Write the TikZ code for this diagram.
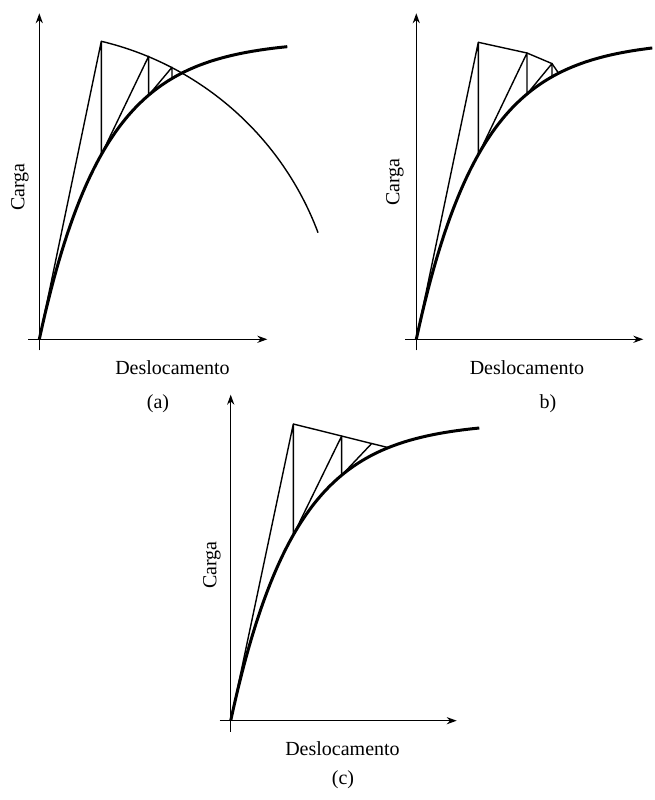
\documentclass[tikz,border=0pt]{standalone}
\usepackage{fontspec}
\setmainfont{Liberation Serif}
\usepackage{tikz}
\usetikzlibrary{arrows.meta, positioning, calc}

\begin{document}
\begin{tikzpicture}[
    x=0.5pt, y=0.5pt,
    declare function={carga(\d)=299*(1-exp(-0.0155*\d));},
    eixo/.style={line width=0.6pt, -{Stealth[length=5pt, width=3.6pt]}},
    resposta/.style={line width=1.5pt},
    iter/.style={line width=0.7pt, line join=round},
    rotulo/.style={font=\fontsize{10}{12}\selectfont, inner sep=0pt}
]
    \useasboundingbox (0,0) rectangle (655,800);

    % (a) comprimento de arco
    \begin{scope}[shift={(39.3,460.7)}]
        \coordinate (a-O) at (0,0);
        \coordinate (a-xi) at (-11,0);
        \coordinate (a-xf) at (228,0);
        \coordinate (a-yi) at (0,-11);
        \coordinate (a-yf) at (0,326);
        \draw[eixo] (a-xi) -- (a-xf);
        \draw[eixo] (a-yi) -- (a-yf);
        \draw[resposta] plot[domain=0:248, samples=80, smooth] (\x, {carga(\x)});
        \coordinate (a-P1) at (62,298);
        \coordinate (a-C1) at (62,{carga(62)});
        \coordinate (a-P2) at (109.3,283);
        \coordinate (a-C2) at (109.3,{carga(109.3)});
        \coordinate (a-P3) at (132.7,272);
        \coordinate (a-C3) at (132.7,{carga(132.7)});
        \draw[iter] (a-P1) arc[start angle=76.6, end angle=20.5, radius=307.5];
        \draw[iter] (a-O) -- (a-P1) -- (a-C1) -- (a-P2) -- (a-C2) -- (a-P3) -- (a-C3);
    \end{scope}

    % (b) plano normal atualizado
    \begin{scope}[shift={(416.3,460.7)}]
        \coordinate (b-O) at (0,0);
        \coordinate (b-xi) at (-11,0);
        \coordinate (b-xf) at (227,0);
        \coordinate (b-yi) at (0,-11);
        \coordinate (b-yf) at (0,326);
        \draw[eixo] (b-xi) -- (b-xf);
        \draw[eixo] (b-yi) -- (b-yf);
        \draw[resposta] plot[domain=0:236, samples=80, smooth] (\x, {carga(\x)});
        \coordinate (b-P1) at (62,297);
        \coordinate (b-C1) at (62,{carga(62)});
        \coordinate (b-P2) at (110.7,286.3);
        \coordinate (b-C2) at (110.7,{carga(110.7)});
        \coordinate (b-P3) at (135.7,275.7);
        \coordinate (b-C3) at (135.7,{carga(135.7)});
        \coordinate (b-E) at (142.3,{carga(142.3)});
        \draw[iter] (b-O) -- (b-P1) -- (b-C1) -- (b-P2) -- (b-C2) -- (b-P3) -- (b-C3);
        \draw[iter] (b-P1) -- (b-P2) -- (b-P3) -- (b-E);
    \end{scope}

    % (c) plano normal
    \begin{scope}[shift={(230.7,79.3)}]
        \coordinate (c-O) at (0,0);
        \coordinate (c-xi) at (-11,0);
        \coordinate (c-xf) at (226,0);
        \coordinate (c-yi) at (0,-11);
        \coordinate (c-yf) at (0,326);
        \draw[eixo] (c-xi) -- (c-xf);
        \draw[eixo] (c-yi) -- (c-yf);
        \draw[resposta] plot[domain=0:248.6, samples=80, smooth] (\x, {carga(\x)});
        \coordinate (c-P1) at (62.6,296.7);
        \coordinate (c-C1) at (62.6,{carga(62.6)});
        \coordinate (c-P4) at (157.6,{carga(157.6)});
        \coordinate (c-P2) at ($(c-P1)!0.509!(c-P4)$);
        \coordinate (c-C2) at (111,{carga(111)});
        \coordinate (c-P3) at ($(c-P1)!0.825!(c-P4)$);
        \draw[iter] (c-O) -- (c-P1) -- (c-C1) -- (c-P2) -- (c-C2) -- (c-P3);
        \draw[iter] (c-P1) -- (c-P4);
    \end{scope}

    % rotulos
    \node[rotulo, rotate=90] (a-carga) at (20,613) {Carga};
    \node[rotulo] (a-desl) at (172.5,432) {Deslocamento};
    \node[rotulo] (a-leg) at (158,396) {(a)};
    \node[rotulo, rotate=90] (b-carga) at (395,618) {Carga};
    \node[rotulo] (b-desl) at (527,432) {Deslocamento};
    \node[rotulo] (b-leg) at (548,396) {b)};
    \node[rotulo, rotate=90] (c-carga) at (212,235) {Carga};
    \node[rotulo] (c-desl) at (342.5,51) {Deslocamento};
    \node[rotulo] (c-leg) at (343,20) {(c)};
\end{tikzpicture}
\end{document}
